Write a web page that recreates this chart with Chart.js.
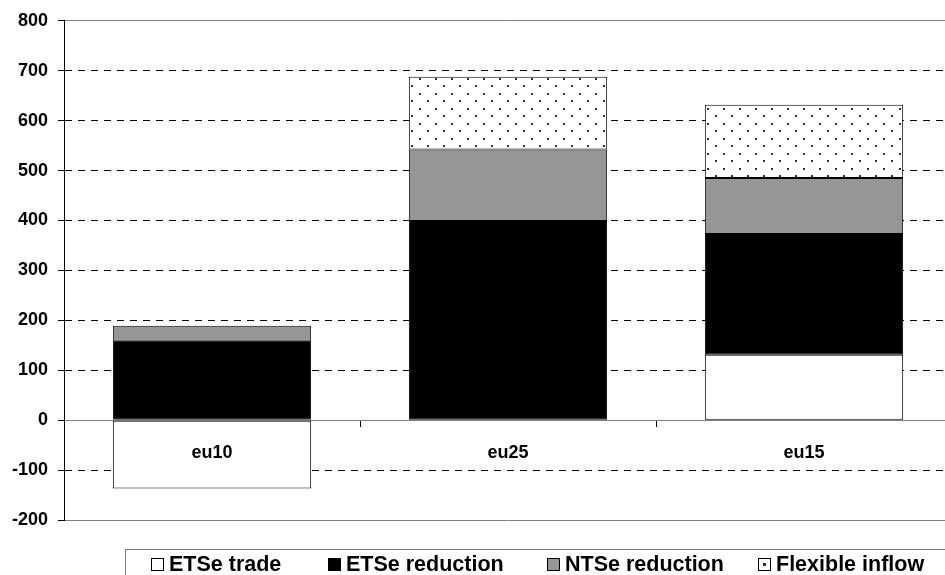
<!DOCTYPE html>
<html>
<head>
<meta charset="utf-8">
<script src="https://cdn.jsdelivr.net/npm/chart.js@4"></script>
<style>
  body { margin: 0; background: #fff; overflow: hidden; }
  #wrap { position: relative; width: 945px; height: 575px; overflow: hidden; }
  #chart { position: absolute; left: 0; top: 0; }
  #legend {
    position: absolute; left: 125px; top: 549px; width: 840px; height: 40px;
    border: 1px solid #808080; box-sizing: border-box;
    font-family: "Liberation Sans", Arial, sans-serif; font-weight: bold; font-size: 21.5px;
  }
  .item { position: absolute; top: 2px; white-space: nowrap; line-height: 24px; }
  .sym { display: inline-block; width: 11px; height: 11px; border: 1px solid #000;
         margin-right: 5px; vertical-align: 0px; position: relative; }
  .sym.dot::after { content: ""; position: absolute; left: 4px; top: 4px; width: 3px; height: 3px; background: #333; }
</style>
</head>
<body>
<div id="wrap">
  <canvas id="chart" width="952" height="575"></canvas>
  <div id="legend"></div>
</div>
<script>
const categories = ['eu10', 'eu25', 'eu15'];
const seriesNames = ['ETSe trade', 'ETSe reduction', 'NTSe reduction', 'Flexible inflow'];
const etsTrade = [-137, null, 131];
const etsReduction = [159, 399, 242];
const ntsReduction = [30, 143, 112];
const flexibleInflow = [null, 146, 147];
const yTicks = { min: -200, max: 800, step: 100 };

// dotted fill like the excel pattern
function dotPattern() {
  const c = document.createElement('canvas');
  c.width = 16; c.height = 15;
  const g = c.getContext('2d');
  g.fillStyle = '#fff';
  g.fillRect(0, 0, 16, 15);
  g.fillStyle = '#333';
  g.fillRect(3, 3, 2, 2);
  g.fillRect(11, 10, 2, 2);
  return g.createPattern(c, 'repeat');
}

const fills = ['#ffffff', '#000000', '#969696', dotPattern()];
const values = [etsTrade, etsReduction, ntsReduction, flexibleInflow];

const edge = v => v === yTicks.min || v === yTicks.max || v === 0;

const chartData = {
  labels: categories,
  datasets: seriesNames.map((name, i) => ({
    label: name,
    data: values[i],
    backgroundColor: fills[i],
    borderColor: '#000',
    borderWidth: 1,
    borderSkipped: false,
    categoryPercentage: 1,
    barPercentage: 0.67
  }))
};

const chartConfig = {
  type: 'bar',
  data: chartData,
  options: {
    responsive: false,
    animation: false,
    devicePixelRatio: 1,
    layout: { padding: { top: 20, bottom: 55, left: 0, right: 0 } },
    plugins: { legend: { display: false }, tooltip: { enabled: false } },
    scales: {
      x: {
        stacked: true,
        position: { y: 0 },
        grid: { drawOnChartArea: false, drawTicks: true, tickLength: 6, tickColor: '#000', offset: true },
        border: { color: '#808080', width: 1 },
        ticks: {
          z: 1, // labels sit inside the plot, draw them over the bars
          color: '#000',
          padding: 16,
          font: { family: 'Liberation Sans', weight: 'bold', size: 18 }
        }
      },
      y: {
        stacked: true,
        min: yTicks.min,
        max: yTicks.max,
        afterFit: s => { s.width = 64; },
        grid: {
          color: c => (c.tick && edge(c.tick.value)) ? '#808080' : '#000',
          tickColor: '#000',
          tickLength: 6,
          lineWidth: 1
        },
        border: {
          color: '#000',
          width: 1,
          dash: c => (c.tick && !edge(c.tick.value)) ? [7, 6] : []
        },
        ticks: {
          stepSize: yTicks.step,
          color: '#000',
          padding: 10,
          font: { family: 'Liberation Sans', weight: 'bold', size: 18 }
        }
      }
    }
  }
};

const chart = new Chart(document.getElementById('chart'), chartConfig);

// legend box under the plot
const legendLeft = [25, 202, 421, 632];
const legend = document.getElementById('legend');
seriesNames.forEach((name, i) => {
  const item = document.createElement('div');
  item.className = 'item';
  item.style.left = legendLeft[i] + 'px';
  const sym = document.createElement('span');
  sym.className = 'sym' + (i === 3 ? ' dot' : '');
  sym.style.background = i === 3 ? '#fff' : fills[i];
  item.appendChild(sym);
  item.appendChild(document.createTextNode(name));
  legend.appendChild(item);
});
</script>
</body>
</html>
